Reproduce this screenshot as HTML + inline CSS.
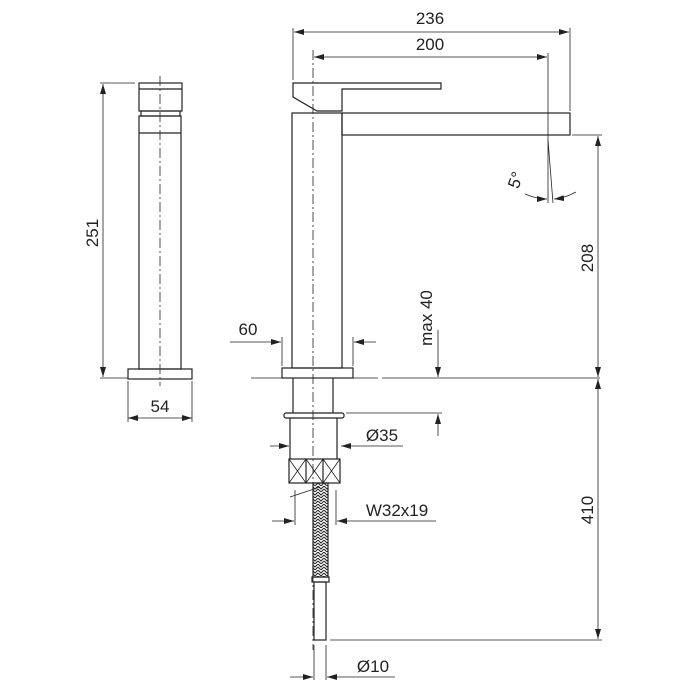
<!DOCTYPE html><html><head><style>body{margin:0;background:#fff}svg{display:block}text{font-family:"Liberation Sans",sans-serif;font-size:17px;fill:#222}</style></head><body>
<svg width="700" height="700" viewBox="0 0 700 700" xmlns="http://www.w3.org/2000/svg">
<defs><marker id="a" markerWidth="10" markerHeight="6" refX="10" refY="3" orient="auto-start-reverse" markerUnits="userSpaceOnUse"><path d="M0,0L10,3L0,6z" fill="#222"/></marker>
<pattern id="br" width="6" height="6" patternUnits="userSpaceOnUse"><path d="M0,0L3,3L6,0M0,3L3,6L6,3" stroke="#222" fill="none" stroke-width="1"/></pattern></defs>
<g stroke="#222" stroke-width="1.2" fill="none">
<rect x="139" y="83" width="43" height="28"/><line x1="139" y1="89" x2="182" y2="89"/>
<rect x="141" y="111" width="39" height="5"/>
<rect x="139" y="116" width="42" height="253"/><line x1="139" y1="133" x2="181" y2="133"/>
<rect x="128" y="369" width="64" height="10"/>
<line x1="160" y1="76" x2="160" y2="386" stroke-dasharray="10,3,2,3" stroke-width="0.8"/>
<line x1="100" y1="83" x2="135" y2="83" stroke-width="0.8"/><line x1="100" y1="378" x2="128" y2="378" stroke-width="0.8"/>
<line x1="103" y1="84" x2="103" y2="377" marker-start="url(#a)" marker-end="url(#a)" stroke-width="0.8"/>
<line x1="128" y1="381" x2="128" y2="422" stroke-width="0.8"/><line x1="192" y1="381" x2="192" y2="422" stroke-width="0.8"/>
<line x1="128" y1="418" x2="192" y2="418" marker-start="url(#a)" marker-end="url(#a)" stroke-width="0.8"/>
<polygon points="293,83 441,83 441,89 342,89 342,111 317,111 293,97"/>
<rect x="292" y="113" width="50" height="255"/>
<rect x="342" y="113" width="228" height="22"/>
<line x1="313" y1="50" x2="313" y2="650" stroke-dasharray="10,3,2,3" stroke-width="0.8"/>
<g stroke-width="0.8">
<line x1="293" y1="28" x2="293" y2="80"/><line x1="570" y1="28" x2="570" y2="111"/>
<line x1="294" y1="32" x2="569" y2="32" marker-start="url(#a)" marker-end="url(#a)"/>
<line x1="548" y1="53" x2="548" y2="203"/><line x1="548" y1="140" x2="553" y2="203"/>
<line x1="314" y1="57" x2="547" y2="57" marker-start="url(#a)" marker-end="url(#a)"/>
<path d="M525,194 Q537,199 547,199" marker-end="url(#a)"/><path d="M576,192 Q565,198 554,199" marker-end="url(#a)"/>
<line x1="572" y1="135" x2="602" y2="135"/>
<line x1="598" y1="136" x2="598" y2="377" marker-start="url(#a)" marker-end="url(#a)"/>
<line x1="598" y1="379" x2="598" y2="639" marker-start="url(#a)" marker-end="url(#a)"/>
<line x1="330" y1="640" x2="602" y2="640"/>
<line x1="251" y1="378" x2="378" y2="378"/><line x1="382" y1="378" x2="600" y2="378"/>
<line x1="282" y1="337" x2="282" y2="366"/><line x1="353" y1="337" x2="353" y2="366"/>
<line x1="230" y1="342" x2="281" y2="342" marker-end="url(#a)"/><line x1="376" y1="342" x2="354" y2="342" marker-end="url(#a)"/>
<line x1="438" y1="330" x2="438" y2="377" marker-end="url(#a)"/><line x1="438" y1="436" x2="438" y2="414" marker-end="url(#a)"/>
<line x1="346" y1="413" x2="442" y2="413"/>
<line x1="270" y1="446" x2="289" y2="446" marker-end="url(#a)"/><line x1="403" y1="446" x2="341" y2="446" marker-end="url(#a)"/>
<line x1="295" y1="490" x2="295" y2="525"/><line x1="336" y1="490" x2="336" y2="525"/>
<line x1="290" y1="497" x2="320" y2="487"/>
<line x1="272" y1="521" x2="294" y2="521" marker-end="url(#a)"/><line x1="436" y1="521" x2="337" y2="521" marker-end="url(#a)"/>
<line x1="314" y1="645" x2="314" y2="680"/><line x1="326" y1="645" x2="326" y2="680"/>
<line x1="290" y1="677" x2="313" y2="677" marker-end="url(#a)"/><line x1="395" y1="677" x2="327" y2="677" marker-end="url(#a)"/>
</g>
<rect x="282" y="368" width="71" height="10"/>
<line x1="293" y1="378" x2="293" y2="413"/><line x1="333" y1="378" x2="333" y2="413"/>
<rect x="284" y="413" width="60" height="5" rx="2"/>
<line x1="290" y1="418" x2="290" y2="459"/><line x1="337" y1="418" x2="337" y2="459"/>
<rect x="289" y="459" width="51" height="24"/>
<line x1="306" y1="459" x2="306" y2="483"/><line x1="323" y1="459" x2="323" y2="483"/>
<path d="M289,459L306,483M306,459L289,483M306,459L323,483M323,459L306,483M323,459L340,483M340,459L323,483" stroke-width="0.8"/>
<rect x="313" y="483" width="15" height="94" fill="url(#br)"/>
<rect x="312" y="577" width="17" height="5"/>
<rect x="314" y="582" width="12" height="58"/>
</g>
<text x="430" y="24" text-anchor="middle">236</text>
<text x="430" y="50" text-anchor="middle">200</text>
<text x="248" y="335" text-anchor="middle">60</text>
<text x="160" y="412" text-anchor="middle">54</text>
<text x="382" y="441" text-anchor="middle">Ø35</text>
<text x="397" y="516" text-anchor="middle">W32x19</text>
<text x="373" y="672" text-anchor="middle">Ø10</text>
<text transform="translate(98,233) rotate(-90)" text-anchor="middle">251</text>
<text transform="translate(593,258) rotate(-90)" text-anchor="middle">208</text>
<text transform="translate(593,510) rotate(-90)" text-anchor="middle">410</text>
<text transform="translate(432,318) rotate(-90)" text-anchor="middle">max 40</text>
<text transform="translate(521,182) rotate(-70)" text-anchor="middle">5°</text>
</svg></body></html>
